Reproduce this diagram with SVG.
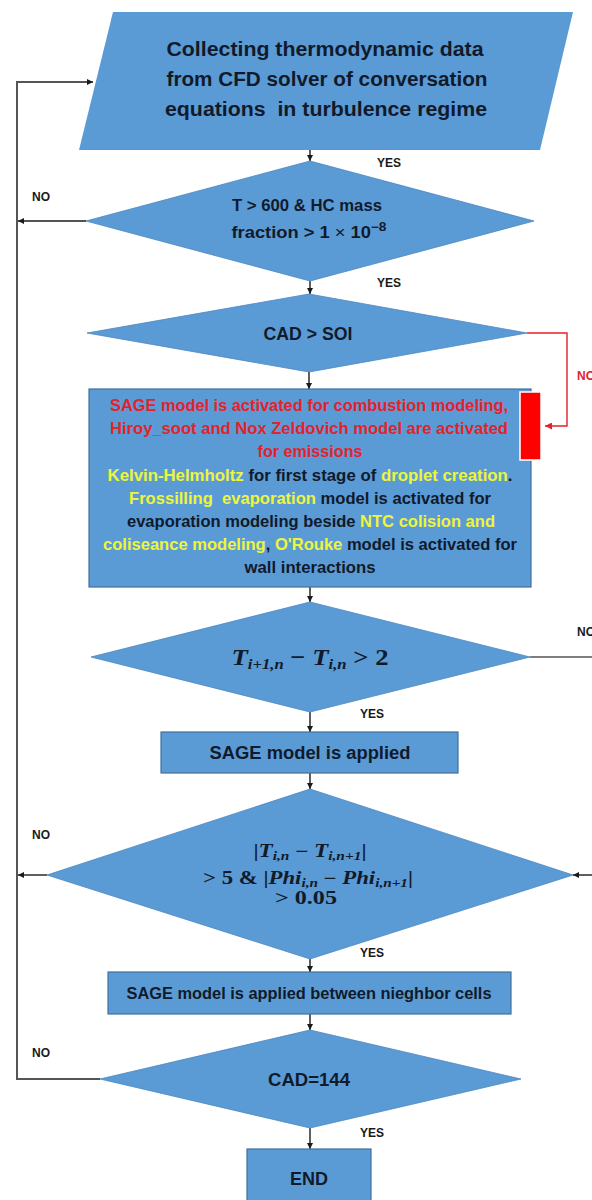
<svg xmlns="http://www.w3.org/2000/svg" width="592" height="1200" viewBox="0 0 592 1200">
<defs>
<style>
.shape{fill:#5b9bd5;stroke:#4a86c0;stroke-width:0.8}
.box{fill:#5b9bd5;stroke:#41719c;stroke-width:1.2}
.t{font-family:"Liberation Sans",Arial,sans-serif;font-weight:bold;fill:#111a2b}
.lbl{font-family:"Liberation Sans",Arial,sans-serif;font-weight:bold;font-size:12px;fill:#1a1a1a}
.m{font-family:"Liberation Serif","Times New Roman",serif;font-weight:bold;font-style:italic;fill:#111a2b}
.up{font-style:normal}
.r{fill:#e3222a}
.y{fill:#eef53a}
.c{fill:none;stroke:#1a1a1a;stroke-width:1.4}
.loop{fill:none;stroke:#555;stroke-width:2}
.red{fill:none;stroke:#e3222a;stroke-width:1.4}
</style>
<marker id="ah" viewBox="0 0 10 10" refX="10" refY="5" markerWidth="6" markerHeight="6" markerUnits="userSpaceOnUse" orient="auto">
<path d="M0,0 L10,5 L0,10 z" fill="#1a1a1a"/>
</marker>
<marker id="ahr" viewBox="0 0 10 10" refX="10" refY="5" markerWidth="7" markerHeight="7" markerUnits="userSpaceOnUse" orient="auto">
<path d="M0,0 L10,5 L0,10 z" fill="#e3222a"/>
</marker>
</defs>
<rect width="592" height="1200" fill="#ffffff"/>

<g id="connectors">
<path class="loop" d="M100,1079 L17,1079 L17,82 L93,82" marker-end="url(#ah)"/>
<path class="c" d="M86,221 L18,221" marker-end="url(#ah)"/>
<path class="c" d="M47,875 L18,875" marker-end="url(#ah)"/>
<path class="c" d="M530,657 L592,657" style="stroke:#555"/>
<path class="c" d="M592,875 L573,875" marker-end="url(#ah)"/>
<path class="red" d="M527,333 L567,333 L567,426 L545,426" marker-end="url(#ahr)"/>
<path class="c" d="M310,150 L310,161" marker-end="url(#ah)"/>
<path class="c" d="M310,281 L310,294" marker-end="url(#ah)"/>
<path class="c" d="M309,372 L309,389" marker-end="url(#ah)"/>
<path class="c" d="M310,587 L310,602" marker-end="url(#ah)"/>
<path class="c" d="M310,712 L310,732" marker-end="url(#ah)"/>
<path class="c" d="M310,773 L310,789" marker-end="url(#ah)"/>
<path class="c" d="M310,959 L310,972" marker-end="url(#ah)"/>
<path class="c" d="M310,1014 L310,1030" marker-end="url(#ah)"/>
<path class="c" d="M310,1128 L310,1149" marker-end="url(#ah)"/>
<text class="lbl" x="32" y="201">NO</text>
<text class="lbl" x="377" y="167">YES</text>
<text class="lbl" x="377" y="287">YES</text>
<text class="lbl" x="577" y="380" style="fill:#e3222a">NO</text>
<text class="lbl" x="577" y="636">NO</text>
<text class="lbl" x="360" y="718">YES</text>
<text class="lbl" x="32" y="839">NO</text>
<text class="lbl" x="360" y="957">YES</text>
<text class="lbl" x="32" y="1057">NO</text>
<text class="lbl" x="360" y="1137">YES</text>
</g>

<g id="input">
<polygon class="shape" points="113,12 573,12 540,150 79,150" style="stroke:none"/>
<text class="t" x="325" y="56" font-size="20" text-anchor="middle" textLength="317" lengthAdjust="spacingAndGlyphs">Collecting thermodynamic data</text>
<text class="t" x="327" y="86" font-size="20" text-anchor="middle" textLength="321" lengthAdjust="spacingAndGlyphs">from CFD solver of conversation</text>
<text class="t" x="326" y="116" font-size="20" text-anchor="middle" textLength="322" lengthAdjust="spacingAndGlyphs" xml:space="preserve">equations  in turbulence regime</text>
</g>

<g id="decision-temp">
<polygon class="shape" points="310,161 534,221 310,281 86,221"/>
<text class="t" x="307" y="211" font-size="16" text-anchor="middle" textLength="150" lengthAdjust="spacingAndGlyphs">T &gt; 600 &amp; HC mass</text>
<text class="t" x="309" y="238" font-size="16" text-anchor="middle" textLength="155" lengthAdjust="spacingAndGlyphs">fraction &gt; 1 <tspan style="font-weight:normal">×</tspan> 10<tspan font-size="12" dy="-7">−8</tspan></text>
</g>

<g id="decision-cad-soi">
<polygon class="shape" points="309,294 527,333 309,372 87,333"/>
<text class="t" x="308" y="340" font-size="18" text-anchor="middle" textLength="89" lengthAdjust="spacingAndGlyphs">CAD &gt; SOI</text>
</g>

<g id="models-box">
<rect class="box" x="89" y="389" width="442" height="198"/>
<text class="t" x="309" y="411" font-size="17" text-anchor="middle" textLength="398" lengthAdjust="spacingAndGlyphs"><tspan class="r">SAGE model is activated for combustion modeling,</tspan></text>
<text class="t" x="309" y="434" font-size="17" text-anchor="middle" textLength="398" lengthAdjust="spacingAndGlyphs"><tspan class="r">Hiroy_soot and Nox Zeldovich model are activated</tspan></text>
<text class="t" x="310" y="457" font-size="17" text-anchor="middle" textLength="105" lengthAdjust="spacingAndGlyphs"><tspan class="r">for emissions</tspan></text>
<text class="t" x="310" y="481" font-size="17" text-anchor="middle" textLength="405" lengthAdjust="spacingAndGlyphs" xml:space="preserve"><tspan class="y">Kelvin-Helmholtz</tspan> for first stage of <tspan class="y">droplet creation</tspan>.</text>
<text class="t" x="310" y="504" font-size="17" text-anchor="middle" textLength="362" lengthAdjust="spacingAndGlyphs" xml:space="preserve"><tspan class="y">Frossilling  evaporation</tspan> model is activated for</text>
<text class="t" x="311" y="527" font-size="17" text-anchor="middle" textLength="368" lengthAdjust="spacingAndGlyphs" xml:space="preserve">evaporation modeling beside <tspan class="y">NTC colision and</tspan></text>
<text class="t" x="310" y="550" font-size="17" text-anchor="middle" textLength="414" lengthAdjust="spacingAndGlyphs" xml:space="preserve"><tspan class="y">coliseance modeling</tspan>, <tspan class="y">O'Rouke</tspan> model is activated for</text>
<text class="t" x="310" y="573" font-size="17" text-anchor="middle" textLength="131" lengthAdjust="spacingAndGlyphs">wall interactions</text>
<rect x="520" y="392" width="21" height="68" fill="#ff0000" stroke="#ffffff" stroke-width="1.5"/>
</g>

<g id="decision-dT">
<polygon class="shape" points="310,602 530,657 310,712 91,657"/>
<text class="m" x="310" y="665" font-size="24" text-anchor="middle" textLength="157" lengthAdjust="spacingAndGlyphs">T<tspan font-size="15" dy="4">i+1,n</tspan><tspan class="up" dy="-4"> − </tspan>T<tspan font-size="15" dy="4">i,n</tspan><tspan class="up" dy="-4"> &gt; 2</tspan></text>
</g>

<g id="sage-applied">
<rect class="box" x="161" y="732" width="297" height="41"/>
<text class="t" x="310" y="759" font-size="18" text-anchor="middle" textLength="201" lengthAdjust="spacingAndGlyphs">SAGE model is applied</text>
</g>

<g id="decision-phi">
<polygon class="shape" points="310,789 573,875 310,959 47,875"/>
<text class="m" x="310" y="857" font-size="18" text-anchor="middle" textLength="113" lengthAdjust="spacingAndGlyphs"><tspan class="up">|</tspan>T<tspan font-size="12" dy="3">i,n</tspan><tspan class="up" dy="-3"> − </tspan>T<tspan font-size="12" dy="3">i,n+1</tspan><tspan class="up" dy="-3">|</tspan></text>
<text class="m" x="308" y="884" font-size="18" text-anchor="middle" textLength="210" lengthAdjust="spacingAndGlyphs"><tspan class="up">&gt; 5 &amp; |</tspan>Phi<tspan font-size="12" dy="3">i,n</tspan><tspan class="up" dy="-3"> − </tspan>Phi<tspan font-size="12" dy="3">i,n+1</tspan><tspan class="up" dy="-3">|</tspan></text>
<text class="m up" x="306" y="904" font-size="18" text-anchor="middle" textLength="62" lengthAdjust="spacingAndGlyphs">&gt; 0.05</text>
</g>

<g id="sage-neighbor">
<rect class="box" x="108" y="972" width="403" height="42"/>
<text class="t" x="309" y="999" font-size="17" text-anchor="middle" textLength="365" lengthAdjust="spacingAndGlyphs">SAGE model is applied between nieghbor cells</text>
</g>

<g id="decision-cad144">
<polygon class="shape" points="310,1030 521,1079 310,1128 100,1079"/>
<text class="t" x="309" y="1086" font-size="18" text-anchor="middle" textLength="82" lengthAdjust="spacingAndGlyphs">CAD=144</text>
</g>

<g id="end">
<rect class="box" x="247" y="1149" width="124" height="60"/>
<text class="t" x="309" y="1185" font-size="18" text-anchor="middle" textLength="38" lengthAdjust="spacingAndGlyphs">END</text>
</g>
</svg>
